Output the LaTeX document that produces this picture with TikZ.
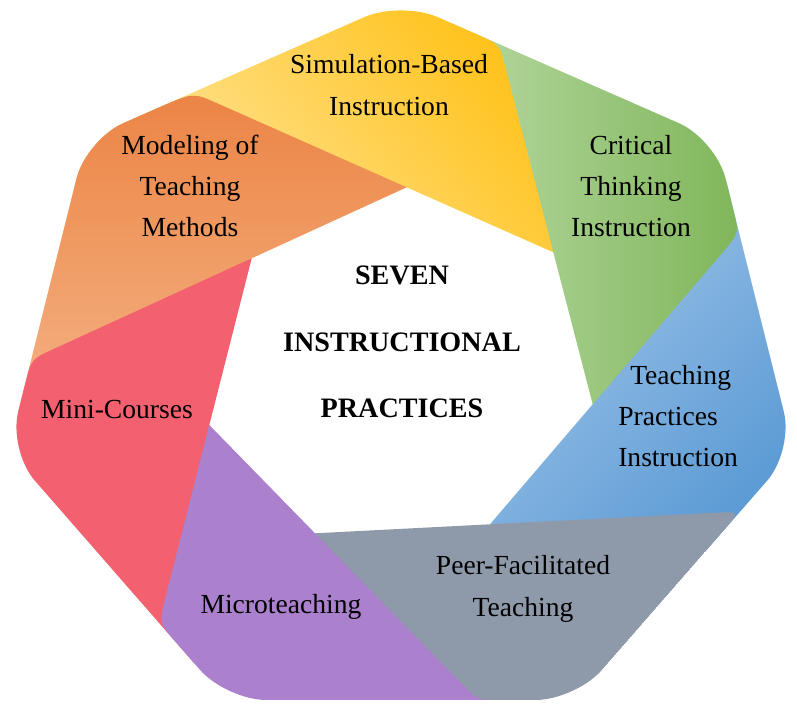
\documentclass[tikz,border=0pt]{standalone}
\usepackage{fontspec}
\setmainfont{Liberation Serif}
\usetikzlibrary{calc}
\definecolor{orangeT}{HTML}{EC8445}
\definecolor{orangeB}{HTML}{F4B283}
\definecolor{yellowD}{HTML}{FFC21A}
\definecolor{yellowL}{HTML}{FFE497}
\definecolor{greenL}{HTML}{B6D8A2}
\definecolor{greenD}{HTML}{80B65A}
\definecolor{blueL}{HTML}{A2C6E8}
\definecolor{blueD}{HTML}{5C9BD5}
\definecolor{greyband}{HTML}{8E9AAA}
\definecolor{purpleband}{HTML}{AB80CD}
\definecolor{redband}{HTML}{F3606F}

\begin{document}
\begin{tikzpicture}[x=0.75pt, y=-0.75pt,
	lbl/.style={font=\fontsize{20.7}{31}\selectfont, align=center, inner sep=0pt},
	ttl/.style={font=\fontsize{21.1}{50}\selectfont\bfseries, align=center, inner sep=0pt}]
\useasboundingbox (0,0) rectangle (797,705);
% rim of the heptagon
\coordinate (OT) at (401,1);
\coordinate (OUR) at (715.8,139.4);
\coordinate (OR) at (793.5,450.5);
\coordinate (OLR) at (575.7,700);
\coordinate (OLL) at (226.3,700);
\coordinate (OL) at (8.5,450.5);
\coordinate (OUL) at (86.2,139.4);
% inner hole
\coordinate (G) at (406.7,187.3);
\coordinate (A) at (251.7,258.3);
\coordinate (B) at (209.3,425);
\coordinate (C) at (315,533.3);
\coordinate (D) at (490,524.3);
\coordinate (E) at (592.7,404.3);
\coordinate (F) at (553.3,252.3);
% inner sides carried on to the rim
\coordinate (QF) at (intersection of E--F and OT--OUR);
\coordinate (QE) at (intersection of D--E and OUR--OR);
\coordinate (QD) at (intersection of C--D and OR--OLR);
\coordinate (QC) at (intersection of B--C and OLR--OLL);
\coordinate (QB) at (intersection of A--B and OLL--OL);
\coordinate (QA) at (intersection of G--A and OL--OUL);
\coordinate (QG) at (intersection of F--G and OUL--OT);
\begin{scope}
\clip[rounded corners=30pt] ($(OLL)!0.5!(OLR)$) -- (OLR) -- (OR) -- (OUR) -- (OT) -- (OUL) -- (OL) -- (OLL) -- cycle;
\shade[top color=blueL, bottom color=blueD, shading angle=45] (D) -- ($(QD)!40pt!(OLR)$) -- (OR) -- ($(QE)!40pt!(OUR)$) -- (E) -- cycle;
\shade[left color=greenL, right color=greenD] (E) -- ($(QE)!19pt!(E)$) .. controls (QE) .. ($(QE)!19pt!(OUR)$) -- (OUR) -- ($(QF)!40pt!(OT)$) -- (F) -- cycle;
\shade[top color=yellowD, bottom color=yellowL, shading angle=-50] (F) -- ($(QF)!19pt!(F)$) .. controls (QF) .. ($(QF)!19pt!(OT)$) -- (OT) -- ($(QG)!50pt!(OUL)$) -- (G) -- cycle;
\shade[top color=orangeT, bottom color=orangeB] (G) -- ($(QG)!19pt!(G)$) .. controls (QG) .. ($(QG)!30pt!(OUL)$) -- (OUL) -- ($(QA)!40pt!(OL)$) -- (A) -- cycle;
\fill[redband] (A) -- ($(QA)!19pt!(A)$) .. controls (QA) .. ($(QA)!19pt!(OL)$) -- (OL) -- ($(QB)!40pt!(OLL)$) -- (B) -- cycle;
\fill[purpleband] (B) -- ($(QB)!19pt!(B)$) .. controls (QB) .. ($(QB)!19pt!(OLL)$) -- (OLL) -- ($(QC)!40pt!(OLR)$) -- (C) -- cycle;
\fill[greyband] (C) -- ($(QC)!19pt!(C)$) .. controls (QC) .. ($(QC)!19pt!(OLR)$) -- (OLR) -- ($(QD)!19pt!(OLR)$) .. controls (QD) .. ($(QD)!19pt!(D)$) -- (D) -- cycle;
\end{scope}
\node[lbl] (sim) at (389,85) {Simulation-Based\\Instruction};
\node[lbl] (crit) at (631,186) {Critical\\Thinking\\Instruction};
\node[lbl, align=left, anchor=west] (tpi) at (618,416) {\hspace*{9pt}Teaching\\Practices\\Instruction};
\node[lbl] (peer) at (523,589) {Peer-Facilitated\\Teaching};
\node[lbl] (micro) at (281,607) {Microteaching};
\node[lbl] (mini) at (117,410) {Mini-Courses};
\node[lbl] (model) at (190,186) {Modeling of\\Teaching\\Methods};
\node[ttl] (title) at (402,342) {SEVEN\\INSTRUCTIONAL\\PRACTICES};
\end{tikzpicture}
\end{document}
